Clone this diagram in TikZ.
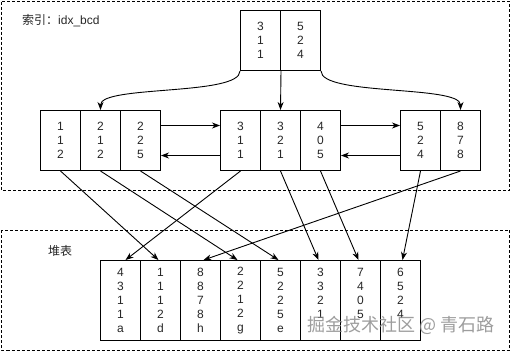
\documentclass[tikz,border=0pt]{standalone}
\usepackage{fontspec}
\setmainfont{Liberation Sans}
\newfontfamily\cjkfont{Noto Sans CJK SC}
\usetikzlibrary{arrows.meta}
\tikzset{
  cell/.style={draw=black, line width=1pt, minimum width=40pt, minimum height=60pt, inner sep=0pt, anchor=north west, align=center, text=black!85, font=\fontsize{12}{14}\selectfont},
  heapcell/.style={cell, minimum height=80pt},
  arr/.style={draw=black, line width=0.9pt, -{Stealth[length=8pt,width=6pt,inset=2.5pt]}},
  region/.style={draw=black, line width=1pt, dash pattern=on 3pt off 2pt},
  lbl/.style={inner sep=0pt, anchor=west, text=black!85, font=\fontsize{12}{14}\selectfont}
}
\begin{document}
\begin{tikzpicture}[x=1pt,y=-1pt]
\useasboundingbox (0,0) rectangle (511,351);
% regions
\draw[region] (1.5,1.5) rectangle (509.5,190);
\draw[region] (1.5,230) rectangle (509.5,350);
\node[lbl] (lidx) at (22,21) {\cjkfont 索引：\rmfamily idx\_bcd};
\node[lbl] (lheap) at (48,251) {\cjkfont 堆表};
% root
\node[cell] (r1) at (240,10) {3\\1\\1};
\node[cell] (r2) at (280,10) {5\\2\\4};
% level 2
\node[cell] (a1) at (40,110) {1\\1\\2};
\node[cell] (a2) at (80,110) {2\\1\\2};
\node[cell] (a3) at (120,110) {2\\2\\5};
\node[cell] (b1) at (220,110) {3\\1\\1};
\node[cell] (b2) at (260,110) {3\\2\\1};
\node[cell] (b3) at (300,110) {4\\0\\5};
\node[cell] (c1) at (400,110) {5\\2\\4};
\node[cell] (c2) at (440,110) {8\\7\\8};
% heap
\node[heapcell] (h1) at (100,260) {4\\3\\1\\1\\a};
\node[heapcell] (h2) at (140,260) {1\\1\\1\\2\\d};
\node[heapcell] (h3) at (180,260) {8\\8\\7\\8\\h};
\node[heapcell] (h4) at (220,260) {2\\2\\1\\2\\g};
\node[heapcell] (h5) at (260,260) {5\\2\\2\\5\\e};
\node[heapcell] (h6) at (300,260) {3\\3\\2\\1\\\phantom{a}};
\node[heapcell] (h7) at (340,260) {7\\4\\0\\5\\\phantom{a}};
\node[heapcell] (h8) at (380,260) {6\\5\\2\\4\\\phantom{a}};
% root to level 2
\draw[arr] (r1.south west) .. controls +(0,25) and +(0,-25) .. (a2.north);
\draw[arr] (r1.south east) -- (b2.north);
\draw[arr] (r2.south east) .. controls +(0,25) and +(0,-25) .. (c2.north);
% siblings
\draw[arr] ([yshift=15pt]a3.east) -- ([yshift=15pt]b1.west);
\draw[arr] ([yshift=-15pt]b1.west) -- ([yshift=-15pt]a3.east);
\draw[arr] ([yshift=15pt]b3.east) -- ([yshift=15pt]c1.west);
\draw[arr] ([yshift=-15pt]c1.west) -- ([yshift=-15pt]b3.east);
% level 2 to heap
\draw[arr] (a1.south) -- ([xshift=-2pt]h2.north);
\draw[arr] (a2.south) -- ([xshift=-3pt]h4.north);
\draw[arr] (a3.south) -- ([xshift=-2pt]h5.north);
\draw[arr] (b1.south) -- ([xshift=5pt]h1.north);
\draw[arr] (b2.south) -- ([xshift=-2pt]h6.north);
\draw[arr] (b3.south) -- ([xshift=-2pt]h7.north);
\draw[arr] (c1.south) -- ([xshift=2pt]h8.north);
\draw[arr] (c2.south) -- ([xshift=3pt]h3.north);
% watermark
\node[inner sep=0pt, text=black!45, opacity=0.85, font=\fontsize{18}{20}\selectfont] (wm) at (401,325) {\cjkfont 掘金技术社区 @ 青石路};
\end{tikzpicture}
\end{document}
